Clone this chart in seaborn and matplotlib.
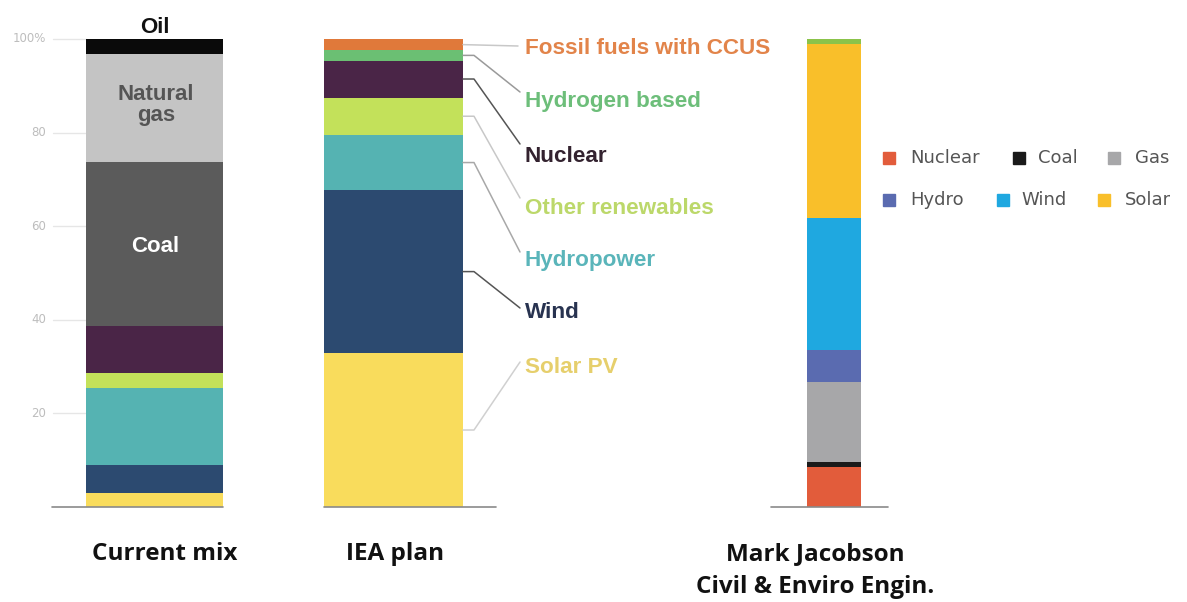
import numpy as np
import matplotlib
matplotlib.use("Agg")
import matplotlib.pyplot as plt
import seaborn as sns

# ---------------- data ----------------
current_cats = ["Solar PV", "Wind", "Hydropower", "Other renewables", "Nuclear", "Coal", "Natural gas", "Oil"]
current_vals = [3.0, 6.0, 16.4, 3.2, 10.1, 35.1, 23.1, 3.1]

iea_cats = ["Solar PV", "Wind", "Hydropower", "Other renewables", "Nuclear", "Hydrogen based", "Fossil fuels with CCUS"]
iea_vals = [32.9, 34.8, 11.8, 8.0, 7.9, 2.2, 2.4]

jac_cats = ["Nuclear", "Coal", "Gas", "Hydro", "Wind", "Solar", "Other"]
jac_vals = [8.6, 1.1, 17.1, 6.7, 28.2, 37.3, 0.9]

bar_titles = ["Current mix", "IEA plan", "Mark Jacobson", "Civil & Enviro Engin."]
ytick_vals = [20, 40, 60, 80, 100]
ytick_labels = ["20", "40", "60", "80", "100%"]
legend_items = ["Nuclear", "Coal", "Gas", "Hydro", "Wind", "Solar"]

# ---------------- styles ----------------
iea_colors = {
    "Solar PV": "#F9DC5C", "Wind": "#2C4A70", "Hydropower": "#55B3B2",
    "Other renewables": "#C3E15A", "Nuclear": "#4A2547", "Coal": "#5B5B5B",
    "Natural gas": "#C4C4C4", "Oil": "#0A0A0A", "Hydrogen based": "#6BBF73",
    "Fossil fuels with CCUS": "#E0793A",
}
label_colors = {
    "Fossil fuels with CCUS": "#E2844A", "Hydrogen based": "#6DBE7A",
    "Nuclear": "#33222F", "Other renewables": "#BCD86A", "Hydropower": "#5AB5BA",
    "Wind": "#283350", "Solar PV": "#E6CF6C",
}
line_colors = {
    "Fossil fuels with CCUS": "#C8C8C8", "Hydrogen based": "#9A9A9A",
    "Nuclear": "#555555", "Other renewables": "#C8C8C8", "Hydropower": "#A8A8A8",
    "Wind": "#555555", "Solar PV": "#D0D0D0",
}
jac_colors = {
    "Nuclear": "#E25C3B", "Coal": "#1A1A1A", "Gas": "#A7A7A9", "Hydro": "#5A6BB0",
    "Wind": "#1FA8E0", "Solar": "#F9BF2A", "Other": "#8BC34A",
}

sns.set_theme(style="white")
plt.rcParams["font.family"] = ["Liberation Sans", "DejaVu Sans"]

W, H = 1187, 602
fig = plt.figure(figsize=(W / 100, H / 100), dpi=100)
ax = fig.add_axes([0, 0, 1, 1])

PX_PER_PCT = 4.68
BASE = 507.0


def py(p):
    """pixel row -> data value"""
    return (BASE - p) / PX_PER_PCT


def stacked(cx, width, cats, vals, colors):
    tops = np.cumsum(vals)
    for i in reversed(range(len(vals))):
        sns.barplot(x=[cx], y=[tops[i]], native_scale=True, width=width,
                    color=colors[cats[i]], saturation=1, errorbar=None,
                    linewidth=0, ax=ax)
    return tops


# bars
tops1 = stacked(154.5, 137, current_cats, current_vals, iea_colors)
tops2 = stacked(393.5, 139, iea_cats, iea_vals, iea_colors)
tops3 = stacked(834, 54, jac_cats, jac_vals, jac_colors)

ax.set_xlim(0, W)
ax.set_ylim(py(H), py(0))
ax.axis("off")

# y ticks and short grid lines
for v, lab in zip(ytick_vals, ytick_labels):
    ax.plot([53, 86], [v, v], color="#E6E6E6", lw=1, zorder=0)
    ax.text(46, v, lab, ha="right", va="center", fontsize=8.5, color="#BDBDBD",
            family="DejaVu Sans")

# baselines
ax.plot([52, 223], [0, 0], color="#8A8A8A", lw=1.2, zorder=5)
ax.plot([324, 496], [0, 0], color="#8A8A8A", lw=1.2, zorder=5)
ax.plot([771, 888], [0, 0], color="#8A8A8A", lw=1.2, zorder=5)

# labels inside current mix bar
ax.text(155, py(33), "Oil", ha="center", va="baseline", fontsize=16,
        fontweight="bold", color="#111111")
ax.text(156, py(100), "Natural", ha="center", va="baseline", fontsize=16,
        fontweight="bold", color="#555555")
ax.text(156, py(121), "gas", ha="center", va="baseline", fontsize=16,
        fontweight="bold", color="#555555")
ax.text(155, py(252), "Coal", ha="center", va="baseline", fontsize=16,
        fontweight="bold", color="white")

# IEA labels with leader lines
label_y = {"Fossil fuels with CCUS": 54, "Hydrogen based": 107, "Nuclear": 162,
           "Other renewables": 214, "Hydropower": 266, "Wind": 318, "Solar PV": 373}
end_y = {"Fossil fuels with CCUS": 46, "Hydrogen based": 92, "Nuclear": 144,
         "Other renewables": 198, "Hydropower": 252, "Wind": 308, "Solar PV": 362}
bottoms2 = tops2 - np.array(iea_vals)
for i, cat in enumerate(iea_cats):
    mid = (tops2[i] + bottoms2[i]) / 2
    ey = py(end_y[cat])
    if cat == "Fossil fuels with CCUS":
        xs, ys = [463, 518], [mid, ey]
    else:
        xs, ys = [463, 474, 520], [mid, mid, ey]
    ax.plot(xs, ys, color=line_colors[cat], lw=1.1, zorder=4)
    ax.text(525, py(label_y[cat]), cat, ha="left", va="baseline", fontsize=16.2,
            fontweight="bold", color=label_colors[cat])

# legend for Jacobson bar
leg_pos = [(889, 910, 158), (1019, 1038, 158), (1114, 1135, 158),
           (889, 910, 200), (1003, 1021, 200), (1104, 1125, 200)]
for name, (sx, tx, yy) in zip(legend_items, leg_pos):
    ax.plot([sx], [py(yy)], marker="s", markersize=8.5, color=jac_colors[name],
            linestyle="none", zorder=6)
    ax.text(tx, py(yy), name, ha="left", va="center", fontsize=13, color="#555555",
            family="DejaVu Sans")

# bottom titles
tfont = dict(fontsize=17.5, fontweight="bold", color="#111111",
             family=["Open Sans", "DejaVu Sans"], ha="center", va="baseline")
ax.text(164.5, py(560), bar_titles[0], **tfont)
ax.text(395, py(560), bar_titles[1], **tfont)
ax.text(815, py(560), bar_titles[2], **tfont)
ax.text(815, py(593), bar_titles[3], **tfont)

fig.savefig("out.png", dpi=100)
